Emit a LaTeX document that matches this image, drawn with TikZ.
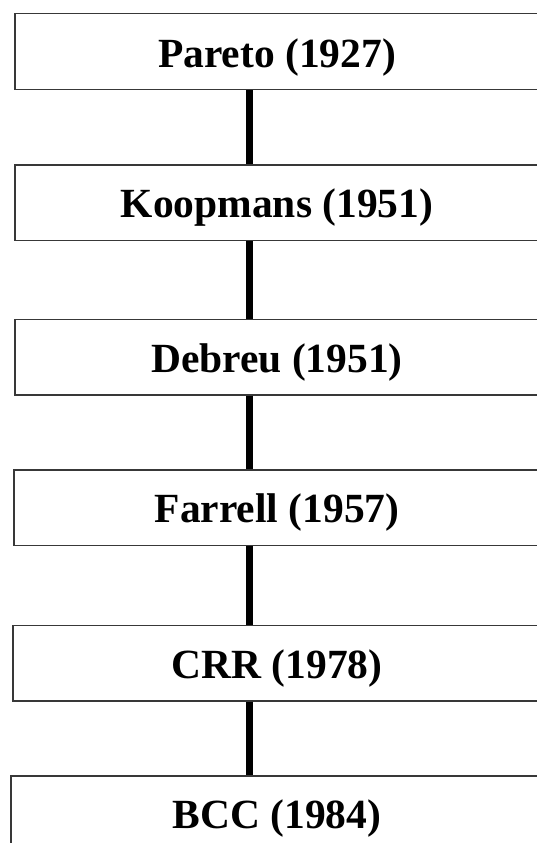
\documentclass[tikz,border=0pt]{standalone}
\usepackage{fontspec}
\setmainfont{Liberation Serif}
\begin{document}
\begin{tikzpicture}[x=1pt,y=-1pt,
  stagebox/.style={draw=black!78, line width=1.5pt, fill=white,
    rectangle, anchor=north west, minimum width=600pt,
    minimum height=75.5pt, inner sep=0pt},
  stagetext/.style={anchor=base, inner sep=0pt,
    font=\fontsize{41.5}{50}\selectfont\bfseries},
  link/.style={line width=7pt, black}]
\clip (0,0) rectangle (537,843);
\fill[white] (0,0) rectangle (537,843);

% boxes of the timeline
\node[stagebox] (b1) at (14,13)    {};
\node[stagebox] (b2) at (14,164)   {};
\node[stagebox] (b3) at (14,318.5) {};
\node[stagebox] (b4) at (13,469)   {};
\node[stagebox] (b5) at (12,624.5) {};
\node[stagebox] (b6) at (10,775)   {};

% labels
\node[stagetext] (t1) at (277,67)    {Pareto (1927)};
\node[stagetext] (t2) at (277,217.5) {Koopmans (1951)};
\node[stagetext] (t3) at (277,372)   {Debreu (1951)};
\node[stagetext] (t4) at (277,522.5) {Farrell (1957)};
\node[stagetext] (t5) at (277,678)   {CRR (1978)};
\node[stagetext] (t6) at (277,828.5) {BCC (1984)};

% vertical connectors
\coordinate (axis) at (249.5,0);
\draw[link] (b1.south -| axis) -- (b2.north -| axis);
\draw[link] (b2.south -| axis) -- (b3.north -| axis);
\draw[link] (b3.south -| axis) -- (b4.north -| axis);
\draw[link] (b4.south -| axis) -- (b5.north -| axis);
\draw[link] (b5.south -| axis) -- (b6.north -| axis);
\end{tikzpicture}
\end{document}
